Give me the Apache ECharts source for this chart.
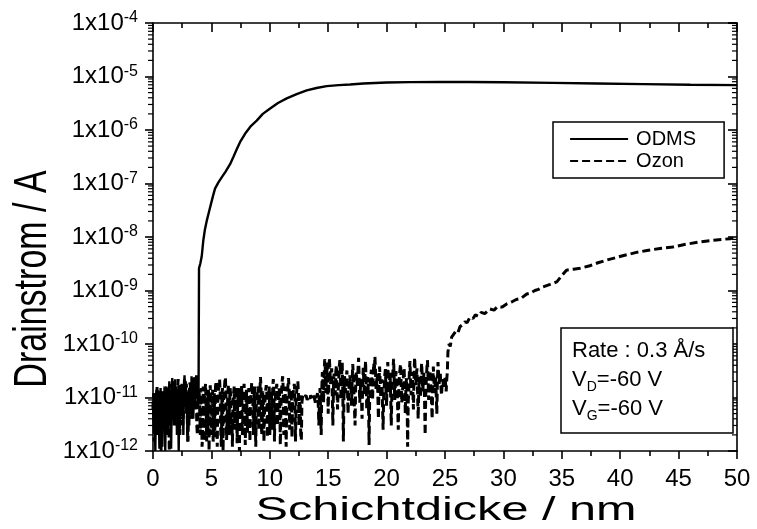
<!DOCTYPE html>
<html>
<head>
<meta charset="utf-8">
<script src="https://cdn.jsdelivr.net/npm/echarts@6/dist/echarts.min.js"></script>
<style>html,body{margin:0;padding:0;background:#fff}#c{width:757px;height:529px}</style>
</head>
<body>
<div id="c"></div>
<script>
// ---------- data ----------
const xTickValues = [0, 5, 10, 15, 20, 25, 30, 35, 40, 45, 50];
const yTickExponents = [-12, -11, -10, -9, -8, -7, -6, -5, -4];
const seriesNames = ['ODMS', 'Ozon'];

// ODMS: noise floor sampled every 0.05 nm from 0 nm
const odmsNoiseStart = 0, odmsNoiseStep = 0.05;
const odmsNoise = [
 8e-12,3e-12,1.2e-11,4e-12,1e-12,9e-12,1.4e-11,2e-12,6e-12,1.3e-11,
 5e-12,1.1e-12,7e-12,1.5e-11,3e-12,1e-11,1.2e-12,6e-12,1.2e-11,4e-12,
 9e-12,1e-12,8e-12,1.6e-11,5e-12,1.2e-11,2e-12,1e-11,2e-11,6e-12,
 1.4e-11,1.1e-12,7e-12,2.3e-11,8e-12,1.5e-11,3e-12,1.1e-11,2.2e-11,6e-12,
 1.6e-11,2e-12,9e-12,1.4e-11,1e-12,7e-12,1.3e-11,4e-12,1e-11,1.8e-11,
 6e-12,1.2e-11,2e-12,1.5e-11,2.6e-11,8e-12,2e-11,5e-12,1.1e-11,1.5e-12,
 7e-12,1.4e-11,3e-12,1e-11,1.7e-11,5e-12,2.5e-11,9e-12,1.6e-11,4e-12,
 1.2e-11,2.4e-11,7e-12,1.5e-11,2.6e-11,1e-11,1.8e-11,8e-12,1.2e-11
];
// ODMS: rise after onset
const odmsRiseX = [3.94,4.05,4.17,4.31,4.45,4.6,4.8,4.97,5.15,5.31,5.6,5.88,6.2,6.6,6.9,7.16,7.5,7.88,8.4,8.88,9.4,10.0,10.7,11.45,12.3,13.16,14.0,14.87,15.9,16.87,18,20,22,24.6,27,30,34.2,38,42,46,50];
const odmsRiseY = [2.6e-9,3.2e-9,4.3e-9,8.7e-9,1.4e-8,2e-8,3e-8,4.2e-8,6e-8,8e-8,1.05e-7,1.3e-7,1.65e-7,2.3e-7,3.2e-7,4.3e-7,6.2e-7,8.5e-7,1.2e-6,1.5e-6,2e-6,2.5e-6,3.2e-6,3.9e-6,4.7e-6,5.5e-6,6.1e-6,6.6e-6,6.9e-6,7.1e-6,7.4e-6,7.7e-6,7.85e-6,7.9e-6,7.9e-6,7.8e-6,7.6e-6,7.4e-6,7.2e-6,7.0e-6,6.9e-6];

// Ozon: noise floor sampled every 0.05 nm from 0 nm
const ozonNoiseStart = 0, ozonNoiseStep = 0.05;
const ozonNoise = [
 6e-12,1.2e-11,1.5e-12,8e-12,1.1e-11,2.5e-12,3e-12,1.6e-11,1.4e-11,4e-12,
 2e-12,1.1e-11,9e-12,1.8e-12,1e-12,7e-12,1.2e-11,1.4e-11,5e-12,9e-12,
 1.6e-11,7e-12,2e-12,1.2e-11,8e-12,1.5e-11,1.3e-11,3e-12,1e-12,9e-12,
 1.1e-11,1.8e-11,4e-12,1.2e-11,2e-11,8e-12,6e-12,1.3e-11,1.5e-11,4e-12,
 3e-12,1e-11,1.2e-11,2.2e-11,1.9e-11,6e-12,2e-12,1.1e-11,9e-12,1.7e-11,
 1.4e-11,3e-12,5e-12,1.6e-11,2.2e-11,9e-12,7e-12,1.8e-11,1.2e-11,2.5e-12,
 1.5e-12,8e-12,1e-11,1.9e-11,1.7e-11,5e-12,4e-12,1.4e-11,1.3e-11,2.3e-11,
 2.1e-11,9e-12,6e-12,1.5e-11,1.1e-11,3e-12,2e-12,1.2e-11,9e-12,1.4e-11,
 1.3e-11,2e-12,1.5e-11,1.2e-11,1.2e-12,2e-12,1.6e-11,9e-12,1.5e-12,1.3e-11,
 1.8e-11,6e-12,1.5e-12,1e-11,2.2e-12,1.4e-11,1e-12,7e-12,1.7e-11,1.6e-11,
 2e-12,1e-11,1.4e-11,1.5e-12,2e-12,1.2e-11,1.8e-12,1.6e-11,2e-11,7e-12,
 1.2e-12,8e-12,1.2e-11,1.9e-11,2.2e-11,1.3e-11,2.5e-12,1.2e-12,1e-11,1.5e-11,
 1e-12,9e-12,1.3e-11,2e-11,2.4e-11,1e-11,1.6e-12,1.5e-12,1.1e-11,1.8e-11,
 2e-12,8e-12,1.5e-11,1.1e-11,2e-12,4e-12,1.2e-12,9e-12,1.2e-11,1.6e-11,
 2.5e-12,1.1e-11,1.6e-11,9e-12,1.4e-12,7e-12,1.5e-11,3e-12,1e-12,1.2e-11,
 9e-12,1.7e-11,1.4e-11,2e-12,5e-12,1.2e-11,1.8e-11,9e-12,1.3e-12,7e-12,
 1.4e-11,1.3e-11,2.2e-12,1e-11,1.5e-11,6e-12,1.5e-12,9e-12,1.2e-11,1.9e-11,
 1.9e-11,8e-12,2e-12,1.1e-11,1.6e-11,4e-12,1.2e-12,8e-12,1e-11,1.4e-11,
 1.6e-11,2.5e-12,4e-12,1.3e-11,2.4e-11,1.5e-11,2e-12,3e-12,1.3e-11,9e-12,
 1.5e-12,6e-12,1e-11,1.4e-11,1.7e-11,1.1e-11,1.8e-12,9e-12,1.2e-11,1.6e-11,
 2e-12,7e-12,1.4e-11,1.1e-11,2.5e-12,1.6e-11,2.2e-11,1.2e-11,1.5e-12,8e-12,
 1.2e-11,1.5e-11,1.8e-11,3e-12,6e-12,1e-11,1.5e-11,9e-12,1.3e-12,6e-12,
 1.3e-11,1.9e-11,2.5e-11,1.4e-11,2e-12,1.2e-11,1.6e-11,8e-12,1.2e-12,7e-12,
 1.1e-11,1.6e-11,2.3e-11,1.5e-11,2.5e-12,1.1e-11,1.4e-11,9e-12,1.8e-12,8e-12,
 1.2e-11,1.5e-11,1.8e-11,9e-12,1.5e-12,8e-12,1.3e-11,1.6e-11,2e-11,1.2e-11,
 3e-12,9e-12,1.1e-11,2e-12,1.6e-12,8e-12,1e-11,1.05e-11,1.1e-11,1e-11,
 1e-11,1.05e-11,1.1e-11,1e-11,9e-12,9.5e-12,1.05e-11,1.1e-11,1e-11,9.5e-12,
 1.1e-11,1.05e-11,9.5e-12,1e-11,1.1e-11,1.05e-11,1e-11,9e-12,8e-12,9e-12,
 1.05e-11,1.1e-11,1.2e-11,7e-12,3e-12,9e-12,1.5e-11,6e-12,2e-12,1.4e-11,
 3e-11,2e-11,8e-12,2.5e-11,5.2e-11,3.5e-11,1.2e-11,2.8e-11,4.5e-11,1.6e-11,
 5e-12,2.2e-11,5.5e-11,3.2e-11,1.8e-11,2.6e-11,3.5e-11,1.1e-11,3e-12,1.5e-11,
 2.8e-11,1.6e-11,1.1e-11,3e-11,4e-11,1.4e-11,6e-12,1.3e-11,2e-11,3.8e-11,
 5e-11,2.4e-11,9e-12,2.6e-11,4.5e-11,1.2e-11,1.5e-12,1e-11,2.5e-11,1.7e-11,
 1.2e-11,2.2e-11,3.2e-11,1.4e-11,5e-12,1.1e-11,1.8e-11,2.6e-11,2.1e-11,1.4e-11,
 7e-12,1.9e-11,4.2e-11,2.7e-11,1.3e-11,6e-12,3e-12,1.5e-11,3e-11,2.2e-11,
 1.6e-11,3.3e-11,5.5e-11,2.4e-11,8e-12,1.4e-11,2.2e-11,9e-12,4e-12,1.8e-11,
 3.6e-11,2e-11,1.1e-11,2.9e-11,4.8e-11,1.7e-11,6e-12,1.2e-11,2.4e-11,8e-12,
 1.3e-12,9e-12,1.9e-11,2.6e-11,3.3e-11,1.5e-11,9e-12,2.5e-11,4.4e-11,3e-11,
 5.8e-11,3.1e-11,1.4e-11,2.1e-11,2.8e-11,1.1e-11,4e-12,1.9e-11,3.8e-11,2e-11,
 1e-11,1.6e-11,2.2e-11,7e-12,2.5e-12,1.1e-11,1.6e-11,2.7e-11,3.4e-11,1.3e-11,
 7e-12,2.3e-11,4.6e-11,2.5e-11,1.2e-11,2e-11,2.9e-11,1e-11,3e-12,1.2e-11,
 2e-11,3.4e-11,5.3e-11,2.1e-11,9e-12,1.8e-11,3.1e-11,2.3e-11,1.5e-11,6e-12,
 2.5e-12,1.3e-11,2.6e-11,3.5e-11,4.2e-11,1.7e-11,8e-12,1.2e-11,1.8e-11,2.8e-11,
 3.6e-11,1.5e-11,5e-12,1.4e-11,2.3e-11,1e-11,1.2e-12,8e-12,1.4e-11,3e-11,
 4.8e-11,2.2e-11,1.1e-11,1.9e-11,3e-11,1.2e-11,6e-12,2.8e-11,5.6e-11,3e-11,
 1.7e-11,2.5e-11,3.5e-11,1.3e-11,4e-12,1.3e-11,2.4e-11,1.6e-11,1e-11,2.6e-11,
 4.4e-11,2.4e-11,1.3e-11,2e-11,2.9e-11,9e-12,2e-12,1.1e-11,2.1e-11,3.6e-11,
 5e-11,2.2e-11,9e-12,2e-11,3.2e-11,2.2e-11,1.5e-11,8e-12,4e-12,1.8e-11,
 3.8e-11,2.2e-11,1.2e-11,1.7e-11,2.5e-11,1.1e-11,5e-12,2e-11,4.6e-11,2.8e-11,
 1.8e-11,2.4e-11,2.8e-11,1.6e-11,1.1e-11,1.7e-11,2.2e-11,1.8e-11,1.5e-11,2e-11,
 2.5e-11,1.8e-11,1.3e-11,2.2e-11,3e-11
];
// Ozon: rise after onset
const ozonRiseX = [25.25,25.35,25.45,25.57,25.7,25.9,26.1,26.28,26.5,26.7,26.9,27.14,27.4,27.6,27.85,28.1,28.4,28.85,29.2,29.5,29.9,30.28,30.7,31.1,31.5,32.0,32.3,32.7,33.0,33.4,34.0,34.57,35.0,35.4,36.0,36.56,37.4,38.1,38.84,39.6,40.3,41.3,42.3,43.4,44.5,45.6,46.8,48.0,49.4,50];
const ozonRiseY = [7e-11,1.0e-10,9e-11,1.35e-10,1.25e-10,1.7e-10,1.6e-10,2.1e-10,2.3e-10,2.6e-10,2.5e-10,3.2e-10,3.0e-10,3.5e-10,3.3e-10,3.9e-10,3.7e-10,4.5e-10,4.3e-10,5e-10,4.9e-10,5.6e-10,6.1e-10,6.8e-10,7.1e-10,8.6e-10,8.9e-10,1.0e-9,1.05e-9,1.17e-9,1.3e-9,1.45e-9,1.9e-9,2.4e-9,2.5e-9,2.6e-9,2.9e-9,3.3e-9,3.7e-9,4.1e-9,4.5e-9,5.1e-9,5.6e-9,6.1e-9,6.5e-9,7.3e-9,8.1e-9,8.7e-9,9.3e-9,1.0e-8];

const annotationLines = ['Rate : 0.3 Å/s', ['V', 'D', '=-60 V'], ['V', 'G', '=-60 V']];
const xTitle = 'Schichtdicke / nm';
const yTitle = 'Drainstrom / A';

// ---------- build ----------
function buildSeries(start, step, noise, riseX, riseY) {
  const out = noise.map((v, i) => [+(start + i * step).toFixed(3), v]);
  riseX.forEach((x, i) => out.push([x, riseY[i]]));
  return out;
}
const odmsData = buildSeries(odmsNoiseStart, odmsNoiseStep, odmsNoise, odmsRiseX, odmsRiseY);
const ozonData = buildSeries(ozonNoiseStart, ozonNoiseStep, ozonNoise, ozonRiseX, ozonRiseY);

const yMin = Math.pow(10, yTickExponents[0]);
const yMax = Math.pow(10, yTickExponents[yTickExponents.length - 1]);
const minorTickVals = [];
for (let k = 0; k < yTickExponents.length - 1; k++) {
  for (let m = 2; m <= 9; m++) minorTickVals.push([xTickValues[0], m * Math.pow(10, yTickExponents[k])]);
}

const FONT = 'Liberation Sans';
const AX = { color: '#000', width: 1.6 };

const chart = echarts.init(document.getElementById('c'), null, { renderer: 'canvas' });
chart.setOption({
  animation: false,
  backgroundColor: '#fff',
  grid: { left: 153, right: 20, top: 23, bottom: 78, containLabel: false },
  xAxis: [{
    type: 'value', position: 'bottom',
    min: xTickValues[0], max: xTickValues[xTickValues.length - 1],
    interval: xTickValues[1] - xTickValues[0],
    axisLine: { show: true, onZero: false, lineStyle: AX },
    axisTick: { show: true, inside: false, length: 8, lineStyle: AX },
    minorTick: { show: true, splitNumber: 2, length: 5, lineStyle: AX },
    splitLine: { show: false }, minorSplitLine: { show: false },
    axisLabel: { show: true, margin: 16, color: '#000', fontFamily: FONT, fontSize: 24,
      formatter: v => xTickValues.includes(v) ? String(v) : '' }
  }, {
    type: 'value', position: 'top',
    min: xTickValues[0], max: xTickValues[xTickValues.length - 1],
    interval: xTickValues[1] - xTickValues[0],
    axisLine: { show: true, onZero: false, lineStyle: AX },
    axisTick: { show: true, inside: true, length: 9, lineStyle: AX },
    minorTick: { show: true, splitNumber: 2, length: 5, lineStyle: AX },
    splitLine: { show: false }, axisLabel: { show: false }
  }],
  yAxis: [{
    type: 'log', logBase: 10, position: 'left', min: yMin, max: yMax, splitNumber: 8,
    axisLine: { show: true, onZero: false, lineStyle: AX },
    axisTick: { show: true, inside: false, length: 8, lineStyle: AX },
    splitLine: { show: false },
    axisLabel: { show: true, margin: 15, color: '#000',
      formatter: v => {
        const e = Math.round(Math.log10(v));
        return yTickExponents.includes(e) ? '{b|1x10}{s|' + e + '}' : '';
      },
      rich: {
        b: { fontFamily: FONT, fontSize: 24, lineHeight: 26, color: '#000' },
        s: { fontFamily: FONT, fontSize: 16, lineHeight: 8, verticalAlign: 'top', color: '#000' }
      }
    }
  }, {
    type: 'log', logBase: 10, position: 'right', min: yMin, max: yMax, splitNumber: 8,
    axisLine: { show: true, onZero: false, lineStyle: AX },
    axisTick: { show: true, inside: true, length: 9, lineStyle: AX },
    splitLine: { show: false }, axisLabel: { show: false }
  }],
  legend: {
    data: seriesNames,
    orient: 'vertical', left: 553, top: 122,
    padding: [7, 28, 7, 16], itemGap: 2,
    itemWidth: 58, itemHeight: 14,
    itemStyle: { opacity: 0 },
    lineStyle: { width: 2.2 },
    borderColor: '#000', borderWidth: 1.5, backgroundColor: '#fff',
    textStyle: { fontFamily: FONT, fontSize: 20, color: '#000', padding: [0, 0, 0, 3] }
  },
  series: [{
    name: seriesNames[0], type: 'line', data: odmsData, showSymbol: false, symbol: 'none',
    lineStyle: { color: '#000', width: 2.4 }, itemStyle: { color: '#000' }, z: 3
  }, {
    name: seriesNames[1], type: 'line', data: ozonData, showSymbol: false, symbol: 'none',
    lineStyle: { color: '#000', width: 3, type: [8, 4] }, itemStyle: { color: '#000' }, z: 2
  }, {
    type: 'custom', silent: true, data: minorTickVals, z: 5, clip: false,
    renderItem: (params, api) => {
      const v = api.value(1);
      const pL = api.coord([xTickValues[0], v]);
      const pR = api.coord([xTickValues[xTickValues.length - 1], v]);
      return { type: 'group', children: [
        { type: 'line', shape: { x1: pL[0] - 5, y1: pL[1], x2: pL[0], y2: pL[1] }, style: { stroke: '#000', lineWidth: 1.2 } },
        { type: 'line', shape: { x1: pR[0] - 5, y1: pR[1], x2: pR[0], y2: pR[1] }, style: { stroke: '#000', lineWidth: 1.2 } }
      ]};
    }
  }],
  graphic: [
    { type: 'text', x: 446, y: 511, scaleX: 1.43,
      style: { text: xTitle, font: '34px "' + FONT + '"', fill: '#000', align: 'center', verticalAlign: 'middle' } },
    { type: 'text', x: 33, y: 279, rotation: Math.PI / 2, scaleY: 1.35,
      style: { text: yTitle, font: '34px "' + FONT + '"', fill: '#000', align: 'center', verticalAlign: 'middle' } },
    { type: 'rect', shape: { x: 561, y: 328, width: 172, height: 105 },
      style: { fill: '#fff', stroke: '#000', lineWidth: 1.5 }, z: 10 },
    { type: 'text', x: 572, y: 336, z: 11,
      style: {
        text: '{n|' + annotationLines[0] + '}\n' +
              '{n|' + annotationLines[1][0] + '}{s|' + annotationLines[1][1] + '}{n|' + annotationLines[1][2] + '}\n' +
              '{n|' + annotationLines[2][0] + '}{s|' + annotationLines[2][1] + '}{n|' + annotationLines[2][2] + '}',
        rich: {
          n: { fontFamily: FONT, fontSize: 22, lineHeight: 29, fill: '#000' },
          s: { fontFamily: FONT, fontSize: 14, lineHeight: 6, verticalAlign: 'bottom', fill: '#000' }
        }
      } }
  ]
});
</script>
</body>
</html>
